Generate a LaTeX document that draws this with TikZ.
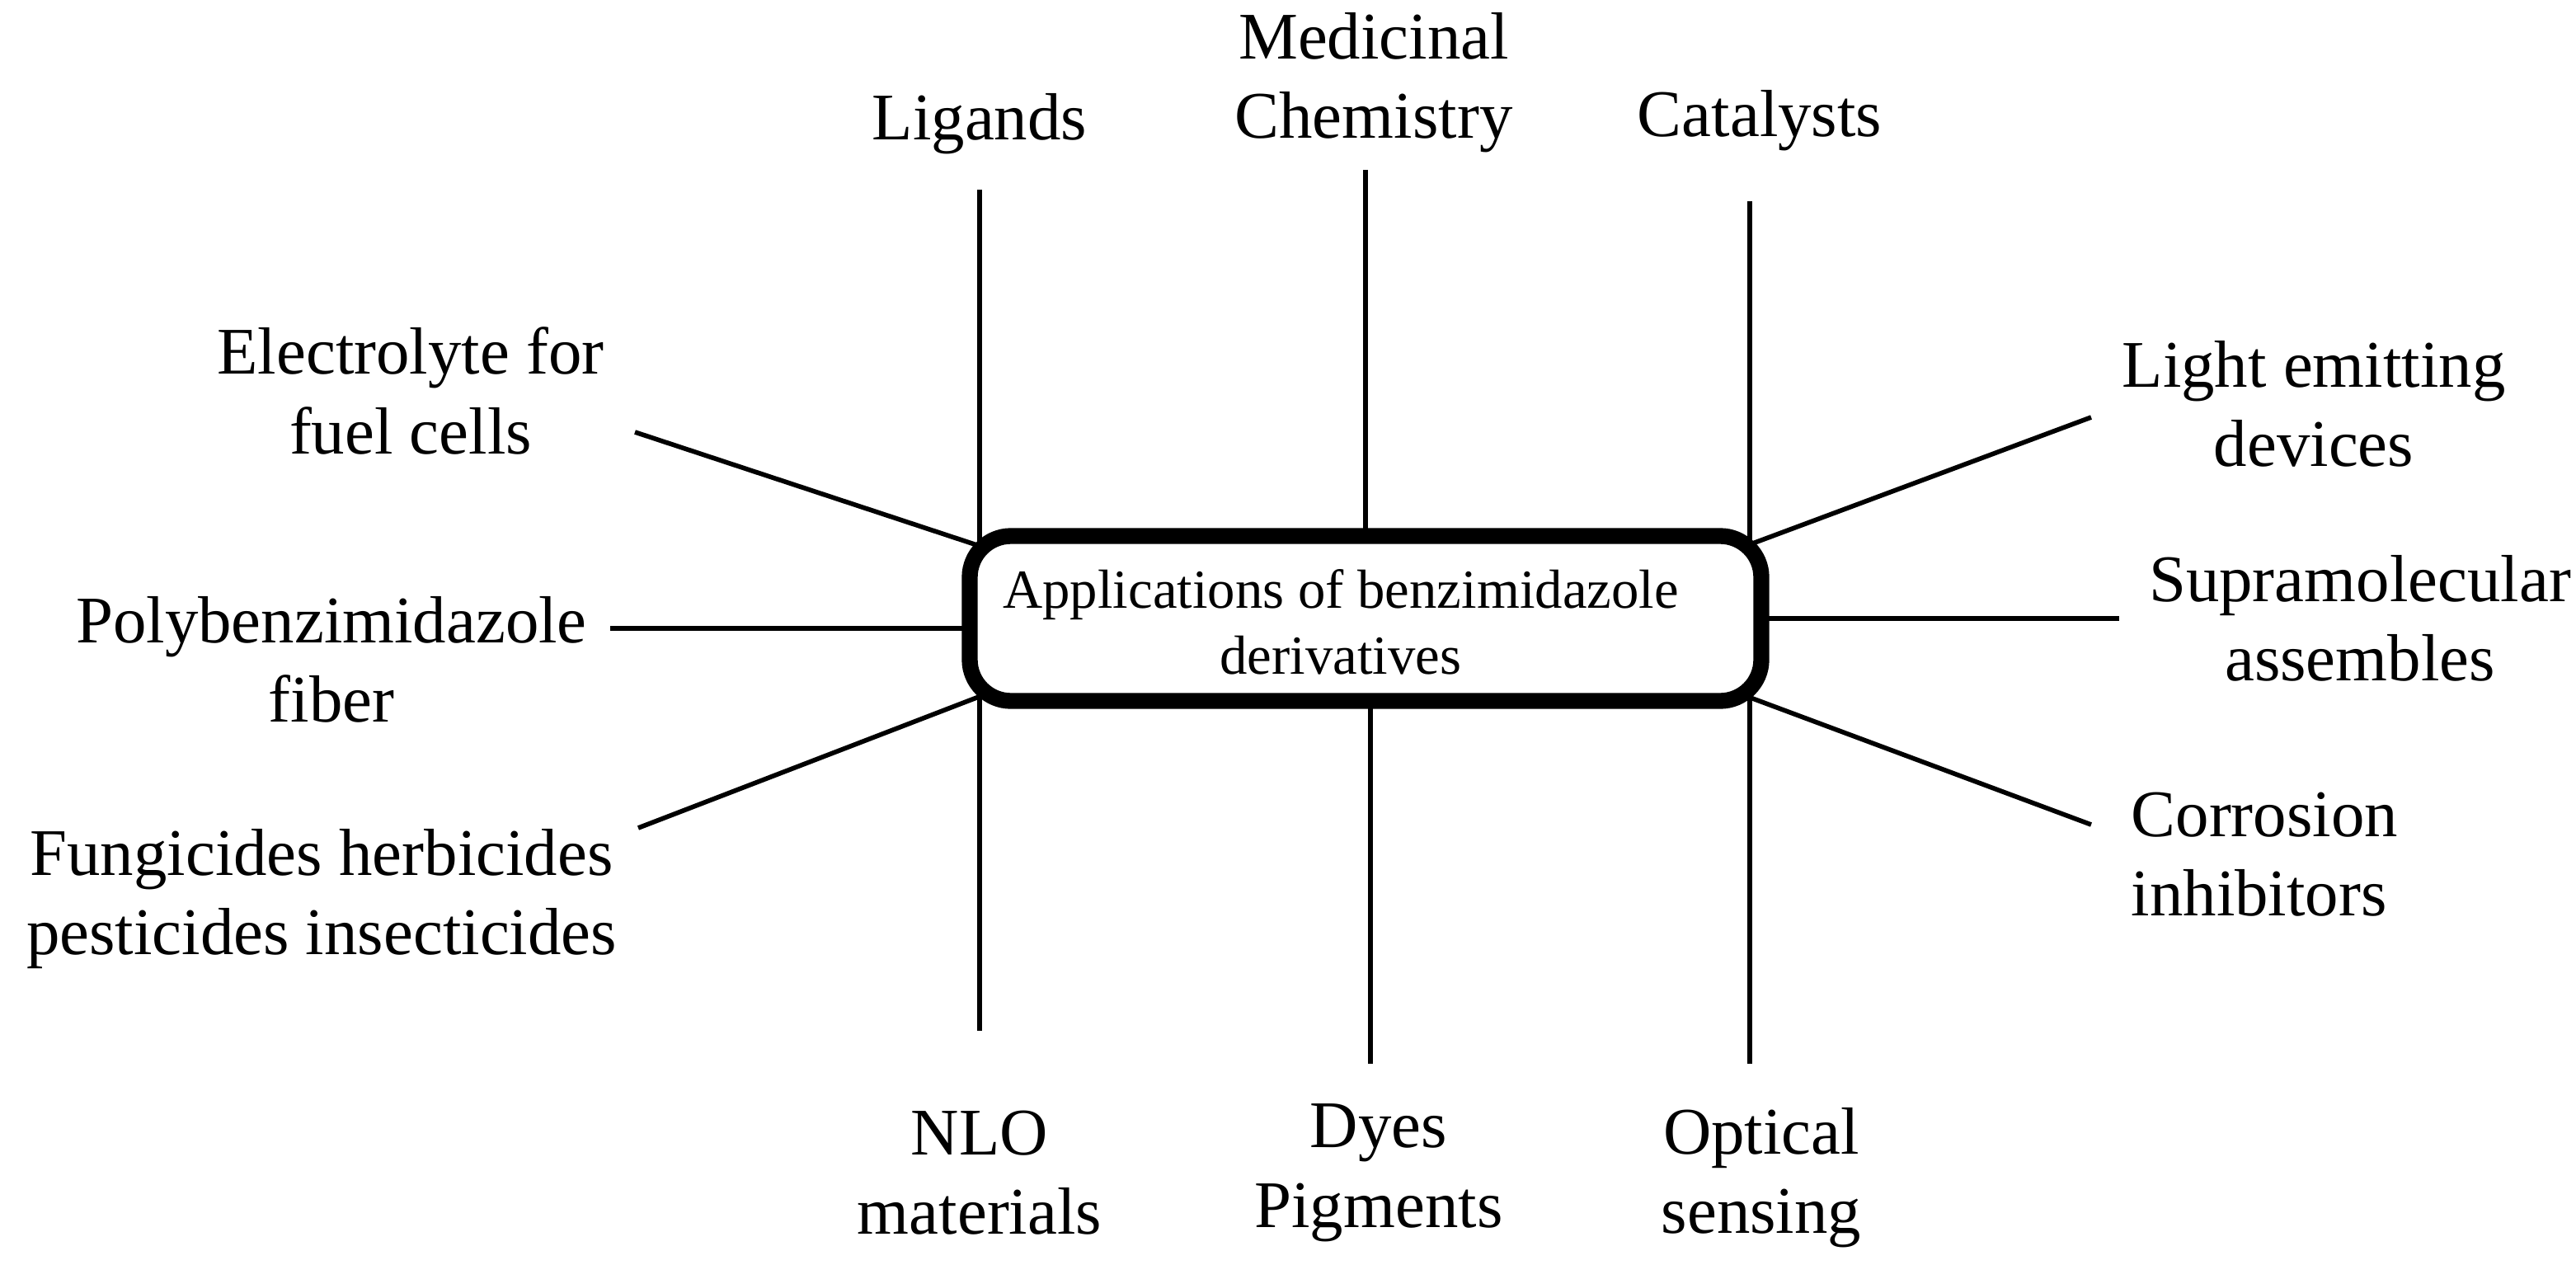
\documentclass[tikz,border=0pt]{standalone}
\usepackage{fontspec}
\setmainfont{Liberation Serif}
\begin{document}
\begin{tikzpicture}[x=0.02cm,y=-0.02cm,
  lbl/.style={align=center,font=\fontsize{23}{27.5}\selectfont,inner sep=0pt},
  ln/.style={line width=1.6pt}]
\useasboundingbox (0,0) rectangle (1562,767);
% lines
\coordinate (l1) at (594,115); \coordinate (l2) at (594,625);
\coordinate (m1) at (828,103); \coordinate (m2) at (828,340);
\coordinate (d1) at (831,410); \coordinate (d2) at (831,645);
\coordinate (c1) at (1061,122); \coordinate (c2) at (1061,645);
\coordinate (e1) at (385,262); \coordinate (e2) at (600,333);
\coordinate (p1) at (370,381); \coordinate (p2) at (600,381);
\coordinate (f1) at (387,502); \coordinate (f2) at (600,420);
\coordinate (g1) at (1268,253); \coordinate (g2) at (1056,332);
\coordinate (s1) at (1285,375); \coordinate (s2) at (1056,375);
\coordinate (r1) at (1268,500); \coordinate (r2) at (1056,421);
\foreach \a/\b in {l1/l2,m1/m2,d1/d2,c1/c2,e1/e2,p1/p2,f1/f2,g1/g2,s1/s2,r1/r2}
  \draw[ln] (\a) -- (\b);
\draw[line width=5.5pt,rounded corners=0.5cm,fill=white] (588,325) rectangle (1068,425);
\node[align=center,font=\fontsize{19}{22.7}\selectfont,inner sep=0pt] (ctr) at (813,377) {Applications of benzimidazole\\derivatives};
% labels
\node[lbl] (lig) at (594,75) {Ligands};
\node[lbl] (med) at (833,50) {Medicinal\\Chemistry};
\node[lbl] (cat) at (1067,73) {Catalysts};
\node[lbl] (ele) at (249,237) {Electrolyte for\\fuel cells};
\node[lbl] (pol) at (201,400) {Polybenzimidazole\\fiber};
\node[lbl] (fun) at (195,545) {Fungicides herbicides\\pesticides insecticides};
\node[lbl] (lig2) at (1403,245) {Light emitting\\devices};
\node[lbl] (sup) at (1431,375) {Supramolecular\\assembles};
\node[lbl,align=left,anchor=west] (cor) at (1292,518) {Corrosion\\inhibitors};
\node[lbl] (nlo) at (594,711) {NLO\\materials};
\node[lbl] (dye) at (836,711) {Dyes\\Pigments};
\node[lbl] (opt) at (1068,714) {Optical\\sensing};
\end{tikzpicture}
\end{document}
